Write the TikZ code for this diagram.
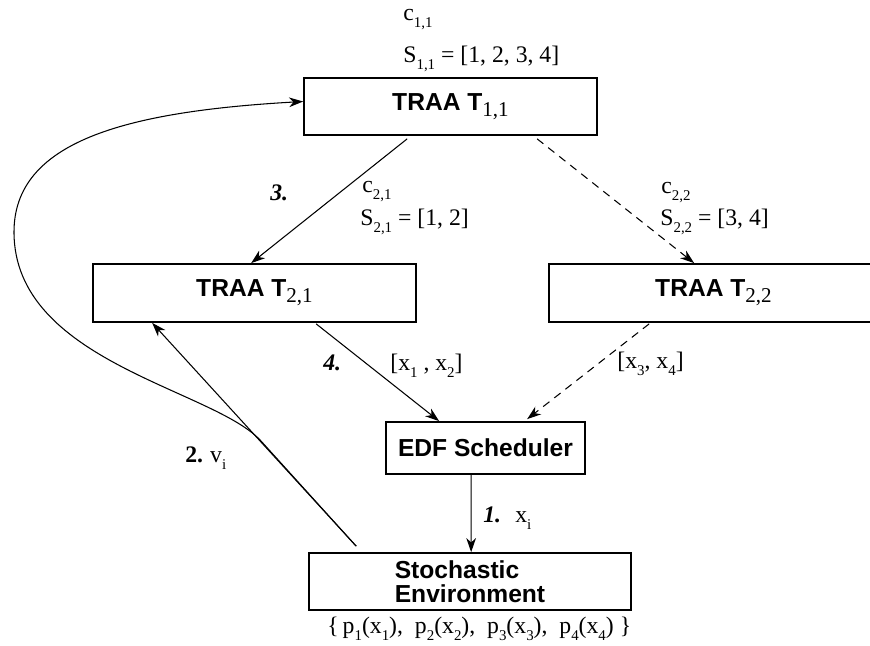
\documentclass[tikz,border=0pt]{standalone}
\usepackage{fontspec}
\setmainfont{Liberation Serif}
\newfontfamily\boxfont{Liberation Sans}
\usetikzlibrary{arrows.meta,calc}
\newcommand{\idx}[1]{\raisebox{-4pt}{\fontsize{8.5}{8.5}\selectfont\rmfamily\mdseries\upshape #1}}
\newcommand{\bidx}[1]{\raisebox{-3.5pt}{\fontsize{12}{12}\selectfont\rmfamily\mdseries\upshape #1}}
\tikzset{
  box/.style={draw, line width=1pt, inner sep=0pt, font={\boxfont\bfseries\fontsize{14}{13.6}\selectfont}},
  lbl/.style={anchor=base west, inner sep=0pt, font={\fontsize{13.5}{15}\selectfont}},
  num/.style={lbl, font={\fontsize{13.5}{15}\selectfont\bfseries\itshape}},
  arr/.style={line width=.6pt, -{Stealth[length=8pt,width=5.5pt,inset=2.5pt]}},
  dasharr/.style={arr, dash pattern=on 4.5pt off 3.5pt}
}
\begin{document}
\begin{tikzpicture}[x=0.02cm, y=-0.02cm]
\useasboundingbox (0,0) rectangle (870,646);
\node[box, minimum width=5.86cm, minimum height=1.14cm] (t11) at (450.5,106.5) {TRAA T\bidx{1,1}};
\node[box, minimum width=6.46cm, minimum height=1.16cm] (t21) at (254.5,293) {TRAA T\bidx{2,1}};
\node[box, minimum width=6.58cm, minimum height=1.16cm] (t22) at (713.5,293) {TRAA T\bidx{2,2}};
\node[box, minimum width=3.98cm, minimum height=1.04cm] (edf) at (485.5,448) {EDF Scheduler};
\node[box, align=left, minimum width=6.44cm, minimum height=1.14cm] (env) at (470,581.5) {Stochastic\\Environment};

\node[lbl] (c11) at (403,20) {c\idx{1,1}};
\node[lbl] (s11) at (403,62) {S\idx{1,1} = [1, 2, 3, 4]};
\node[num] (n3) at (270,200) {3.};
\node[lbl] (c21) at (362,192) {c\idx{2,1}};
\node[lbl] (s21) at (360,225) {S\idx{2,1} = [1, 2]};
\node[lbl] (c22) at (661,193) {c\idx{2,2}};
\node[lbl] (s22) at (660,225) {S\idx{2,2} = [3, 4]};
\node[num] (n4) at (323,370) {4.};
\node[lbl] (x12) at (390,370) {[x\idx{1} , x\idx{2}]};
\node[lbl] (x34) at (617,368) {[x\idx{3}, x\idx{4}]};
\node[num] (n1) at (483,522) {1.};
\node[lbl] (xi) at (515,522) {x\idx{i}};
\node[lbl] (n2) at (185,462) {\textbf{2.}\hspace{4pt}v\idx{i}};
\node[lbl] (probs) at (327,633) {\{\,p\idx{1}(x\idx{1}),\ \ p\idx{2}(x\idx{2}),\ \ p\idx{3}(x\idx{3}),\ \ p\idx{4}(x\idx{4})\ \}};

\coordinate (fb) at ($(env.north west)+(48,-6)$);
\coordinate (fe) at ($(t11.west)+(0,-5)$);
\draw[arr] ($(t11.south west)+(104,3)$) -- ($(t21.north west)+(159,0)$);
\draw[dasharr] ($(t11.south west)+(234,3)$) -- ($(t22.north west)+(146,0)$);
\draw[arr] ($(t21.south west)+(224,1)$) -- ($(edf.north west)+(54,0)$);
\draw[dasharr] ($(t22.south west)+(101,1)$) -- ($(edf.north west)+(142,-2)$);
\draw[arr] ($(edf.south west)+(86,0)$) -- ($(env.north west)+(163,0)$);
\draw[arr] (fb) -- ($(t21.south west)+(60,0)$);
\draw[arr] (fb) -- (261,441) .. controls (214,389) and (14,362) .. (14,232) .. controls (14,142) and (124,111.6) .. (fe);
\end{tikzpicture}
\end{document}
